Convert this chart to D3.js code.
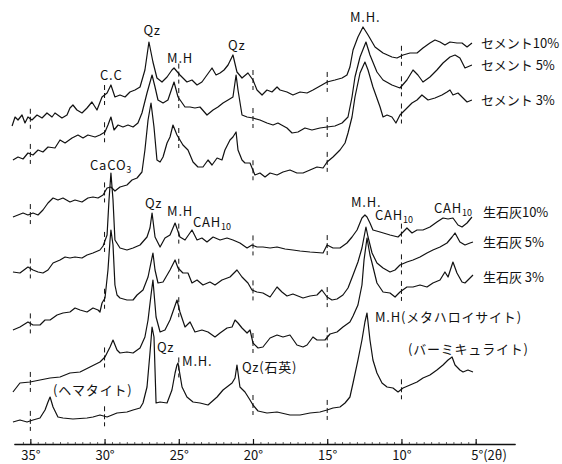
<!DOCTYPE html>
<html>
<head>
<meta charset="utf-8">
<script src="https://cdn.jsdelivr.net/npm/d3@7"></script>
<style>
  body { margin: 0; background: #fff; }
  svg text { font-family: "Noto Sans CJK JP", "Noto Sans", sans-serif; fill: #111; }
</style>
</head>
<body>
<svg id="xrd" width="562" height="464"></svg>
<script>
// 2theta ticks on the bottom axis, and where the small dashed marks sit on each trace
var axisTicks = [35, 30, 25, 20, 15, 10, 5];
var markTicks = [35, 30, 25, 20, 15, 10];

// traces: [2theta (deg), height above the axis line]
var cement10 = [[36.23,318],[36.03,327],[35.83,324],[35.56,329],[35.36,321],[35.16,327],[34.89,324],[34.55,329],[34.21,326],[33.88,331],[33.54,327],[33.34,331],[32.87,326],[32.53,329],[32.33,336],[32.13,339],[31.86,334],[31.52,331],[31.18,336],[30.85,342],[30.51,334],[30.17,347],[29.83,351],[29.57,359],[29.30,347],[28.96,349],[28.62,347],[28.29,352],[27.95,354],[27.61,357],[27.28,374],[27.01,402],[26.74,382],[26.47,366],[26.13,362],[25.79,367],[25.46,374],[25.32,376],[24.92,369],[24.45,362],[24.11,364],[23.77,359],[23.44,362],[23.10,369],[22.76,376],[22.49,369],[22.22,371],[21.95,374],[21.68,379],[21.35,389],[21.08,372],[20.74,366],[20.34,371],[20.00,364],[19.73,354],[19.39,349],[19.06,354],[18.72,352],[18.38,357],[18.18,354],[17.71,352],[17.31,349],[16.83,352],[16.36,351],[15.96,354],[15.36,359],[15.01,362],[14.48,364],[14.00,366],[13.67,369],[13.47,377],[13.26,394],[12.93,407],[12.59,417],[12.25,409],[11.78,397],[11.24,391],[10.64,387],[10.30,386],[9.89,389],[9.42,391],[8.95,391],[8.55,396],[8.08,401],[7.74,404],[7.40,402],[7.07,399],[6.73,402],[6.26,401],[5.92,401],[5.58,397],[5.25,401]];
var cement5 = [[36.17,284],[35.83,287],[35.49,285],[35.16,291],[34.82,289],[34.48,294],[34.15,292],[33.81,297],[33.34,296],[33.00,304],[32.66,301],[32.19,306],[31.79,309],[31.45,306],[31.12,309],[30.64,307],[30.31,309],[29.97,312],[29.77,319],[29.57,327],[29.36,314],[29.09,319],[28.76,317],[28.42,319],[28.08,317],[27.75,321],[27.48,331],[27.14,351],[26.80,369],[26.60,357],[26.40,344],[26.06,341],[25.73,344],[25.32,362],[25.05,347],[24.58,337],[24.24,337],[23.91,336],[23.57,337],[23.10,329],[22.69,334],[22.36,337],[22.02,341],[21.68,344],[21.35,347],[21.14,369],[21.01,354],[20.74,329],[20.40,327],[20.00,326],[19.53,324],[19.06,321],[18.65,319],[18.32,321],[17.71,316],[17.37,311],[16.97,312],[16.50,316],[16.03,314],[15.49,316],[15.01,317],[14.48,318],[14.00,321],[13.60,327],[13.33,347],[13.13,367],[12.79,387],[12.39,402],[12.12,389],[11.65,372],[11.24,364],[10.64,359],[10.10,356],[9.63,364],[9.22,374],[8.89,369],[8.55,362],[8.08,367],[7.61,374],[7.20,381],[6.73,387],[6.39,389],[6.06,386],[5.72,376],[5.25,379]];
var cement3 = [[36.17,227],[35.83,229],[35.49,231],[35.16,229],[34.82,231],[34.48,229],[34.15,234],[33.81,241],[33.47,246],[33.14,244],[32.80,246],[32.33,242],[31.99,244],[31.52,242],[31.12,246],[30.78,247],[30.44,246],[30.10,249],[29.83,256],[29.57,257],[29.30,253],[28.96,257],[28.49,259],[28.15,264],[27.81,266],[27.48,272],[27.28,294],[27.07,324],[26.87,341],[26.67,317],[26.47,284],[26.26,282],[26.06,287],[25.79,301],[25.59,307],[25.39,319],[25.12,309],[24.92,304],[24.72,299],[24.38,294],[24.04,282],[23.71,277],[23.37,277],[23.03,284],[22.76,279],[22.42,286],[22.09,284],[21.89,294],[21.55,304],[21.35,307],[21.14,312],[21.01,294],[20.74,284],[20.54,281],[20.20,281],[19.87,269],[19.53,271],[19.19,267],[18.85,271],[18.38,269],[17.98,272],[17.51,274],[17.04,271],[16.63,271],[16.16,274],[15.69,277],[15.28,276],[15.01,282],[14.61,287],[14.14,294],[13.80,301],[13.60,311],[13.33,327],[13.13,347],[12.79,371],[12.46,382],[12.25,374],[11.92,357],[11.44,337],[11.24,327],[10.97,329],[10.64,327],[10.37,321],[10.10,329],[9.76,334],[9.29,341],[8.95,344],[8.62,349],[8.21,344],[7.74,346],[7.27,349],[6.93,352],[6.73,354],[6.53,349],[6.19,351],[5.85,346],[5.58,342],[5.25,344]];
var lime10 = [[36.17,172],[35.70,171],[35.16,177],[34.82,174],[34.48,172],[34.15,171],[33.81,174],[33.47,181],[33.00,184],[32.66,187],[32.33,186],[31.99,187],[31.52,186],[31.18,189],[30.78,191],[30.31,194],[30.10,198],[29.83,209],[29.70,244],[29.57,271],[29.43,244],[29.30,204],[28.96,196],[28.49,194],[28.08,196],[27.61,199],[27.14,207],[26.94,216],[26.80,231],[26.60,207],[26.26,197],[25.93,206],[25.59,209],[25.25,221],[24.92,207],[24.58,204],[24.11,214],[23.77,204],[23.44,206],[23.10,202],[22.69,207],[22.22,204],[21.75,206],[21.35,204],[20.88,201],[20.40,196],[20.07,199],[19.73,197],[19.33,197],[18.85,196],[18.38,197],[17.84,195],[17.31,194],[16.83,193],[16.16,192],[15.28,191],[15.01,199],[14.61,196],[14.14,196],[13.67,201],[13.33,207],[12.99,214],[12.66,226],[12.46,229],[12.32,227],[12.12,221],[11.92,214],[11.44,212],[10.77,209],[10.23,207],[9.89,212],[9.63,216],[9.29,211],[8.95,214],[8.55,214],[8.08,217],[7.61,222],[7.20,226],[6.86,225],[6.53,226],[6.19,219],[5.92,217],[5.58,221],[5.25,227]];
var lime5 = [[36.17,114],[35.70,117],[35.16,122],[34.82,119],[34.35,119],[34.01,124],[33.67,124],[33.20,129],[32.80,131],[32.33,132],[31.99,136],[31.65,134],[31.18,132],[30.78,136],[30.44,134],[30.31,132],[30.17,141],[29.97,146],[29.77,174],[29.63,204],[29.57,214],[29.43,199],[29.30,159],[29.16,149],[28.96,146],[28.49,144],[28.08,144],[27.81,149],[27.41,154],[27.07,167],[26.74,191],[26.60,174],[26.40,161],[26.06,162],[25.59,174],[25.25,184],[25.05,176],[24.72,171],[24.38,171],[24.11,161],[23.77,164],[23.37,159],[22.90,162],[22.56,159],[22.09,164],[21.55,167],[21.08,174],[20.74,167],[20.34,161],[20.07,154],[19.73,152],[19.33,151],[18.85,147],[18.38,157],[18.05,152],[17.71,148],[17.31,150],[16.97,148],[16.63,146],[16.16,148],[15.69,149],[15.36,154],[15.01,147],[14.68,144],[14.34,145],[13.94,149],[13.60,156],[13.26,169],[12.93,182],[12.66,196],[12.39,217],[12.25,207],[11.98,191],[11.65,181],[11.24,176],[10.77,172],[10.43,174],[10.10,179],[9.63,182],[9.22,184],[8.75,187],[8.28,191],[7.88,194],[7.40,197],[6.93,201],[6.59,207],[6.39,211],[6.06,202],[5.72,199],[5.38,201],[5.18,202]];
var lime3 = [[36.17,52],[35.70,61],[35.02,62],[34.35,64],[33.67,66],[33.00,67],[32.33,71],[31.65,72],[30.98,77],[30.31,82],[29.97,87],[29.63,97],[29.43,104],[29.16,94],[28.96,91],[28.49,92],[28.08,91],[27.61,96],[27.28,107],[27.07,124],[26.87,149],[26.74,164],[26.53,127],[26.26,112],[25.93,114],[25.59,124],[25.12,144],[24.92,132],[24.58,117],[24.24,122],[23.91,112],[23.44,114],[23.03,112],[22.56,107],[22.22,111],[21.75,116],[21.41,117],[21.21,124],[21.01,121],[20.74,116],[20.40,111],[20.20,114],[20.00,101],[19.66,96],[19.33,97],[18.85,106],[18.38,109],[17.98,107],[17.51,109],[17.04,99],[16.63,97],[16.36,99],[15.96,107],[15.69,104],[15.15,104],[14.81,110],[14.34,112],[13.94,117],[13.47,122],[13.26,128],[12.93,139],[12.66,159],[12.52,184],[12.32,206],[12.12,189],[11.98,181],[11.65,161],[11.24,152],[10.77,151],[10.43,147],[10.10,152],[9.63,157],[9.22,157],[8.75,159],[8.28,157],[7.88,161],[7.40,164],[7.07,172],[6.86,167],[6.53,182],[6.26,171],[5.92,162],[5.72,161],[5.38,166],[5.18,169]];
var untreated = [[36.17,22],[35.70,24],[35.22,22],[34.82,24],[34.35,26],[34.01,34],[33.81,42],[33.67,47],[33.47,37],[33.14,27],[32.80,26],[32.13,25],[31.18,26],[30.78,27],[30.31,29],[29.83,27],[29.16,31],[28.49,32],[28.08,34],[27.61,36],[27.41,41],[27.14,57],[26.94,91],[26.80,117],[26.67,107],[26.53,41],[26.26,42],[25.79,41],[25.46,54],[25.25,71],[25.12,79],[25.05,81],[24.78,57],[24.45,47],[24.04,42],[23.57,41],[23.03,39],[22.42,47],[22.02,54],[21.41,61],[21.21,66],[21.08,79],[20.88,57],[20.54,52],[20.20,44],[20.00,39],[19.66,33],[19.06,31],[18.38,32],[17.51,29],[16.83,29],[16.16,31],[15.49,32],[15.01,34],[14.61,36],[14.14,37],[13.80,41],[13.47,47],[13.26,61],[12.93,84],[12.66,104],[12.46,122],[12.32,131],[12.12,104],[11.92,84],[11.65,71],[11.31,61],[10.97,57],[10.57,56],[10.23,52],[9.89,56],[9.42,59],[8.95,62],[8.55,66],[8.08,69],[7.61,74],[7.20,79],[6.86,84],[6.59,87],[6.39,79],[6.06,74],[5.85,72],[5.52,74],[5.18,72]];

var traces = [cement10, cement5, cement3, lime10, lime5, lime3, untreated];
var traceNames = ["セメント10%", "セメント 5%", "セメント 3%", "生石灰10%", "生石灰 5%", "生石灰 3%", ""];

// peak labels: text, subscript, [2theta, height]
var peakLabels = [
  ["Qz", "", 26.80, 409, "middle"], ["M.H", "", 25.79, 381], ["C.C", "", 30.31, 364],
  ["Qz", "", 21.68, 394], ["M.H.", "", 13.47, 422],
  ["CaCO", "3", 30.98, 274], ["Qz", "", 27.28, 236], ["M.H", "", 25.79, 228],
  ["CAH", "10", 24.04, 217], ["M.H.", "", 13.40, 237], ["CAH", "10", 11.78, 224], ["CAH", "10", 7.81, 231],
  ["M.H(メタハロイサイト)", "", 11.78, 122], ["(バーミキュライト)", "", 9.56, 90],
  ["Qz", "", 26.47, 92], ["M.H.", "", 24.78, 78], ["Qz(石英)", "", 20.74, 72], ["(ヘマタイト)", "", 33.47, 49]
];
var nameLabelHeights = [396, 374, 339, 227, 197, 162];

function drawXRD(id) {
  var svg = d3.select(id);

  var x = d3.scaleLinear().domain([36.1, 2.35]).range([14, 515]);
  var y = d3.scaleLinear().domain([0, 440]).range([444, 4]);

  var line = d3.line()
      .x(function(d) { return x(d[0]); })
      .y(function(d) { return y(d[1]); });

  //height of a trace at a given 2theta (points run from high to low angle)
  function heightAt(pts, t) {
    for (var i = 0; i < pts.length - 1; i++) {
      var a = pts[i], b = pts[i + 1];
      if (t <= a[0] && t >= b[0]) return a[1] + (b[1] - a[1]) * (a[0] - t) / (a[0] - b[0]);
    }
    return pts[pts.length - 1][1];
  }

  svg.selectAll(".trace")
    .data(traces)
    .enter().append("path")
      .attr("class", "trace")
      .attr("d", line)
      .attr("fill", "none")
      .attr("stroke", "#111")
      .attr("stroke-width", 1.2)
      .attr("stroke-linejoin", "round");

  // dashed reference marks every 5 degrees on each trace
  traces.forEach(function(pts) {
    svg.selectAll(null)
      .data(markTicks)
      .enter().append("line")
        .attr("x1", function(d) { return x(d); })
        .attr("x2", function(d) { return x(d); })
        .attr("y1", function(d) { return y(heightAt(pts, d)) - 10; })
        .attr("y2", function(d) { return y(heightAt(pts, d)) + 10; })
        .attr("stroke", "#111")
        .attr("stroke-width", 1)
        .attr("stroke-dasharray", "5,3");
  });

  // axis
  var minor = d3.axisBottom(x)
      .tickValues(d3.range(35.5, 4.9, -0.5))
      .tickSize(-2).tickSizeOuter(0).tickFormat("");
  svg.append("g").attr("transform", "translate(0,444)").call(minor)
    .call(function(g) { g.selectAll("line").attr("stroke", "#666"); });

  var axis = d3.axisBottom(x)
      .tickValues(axisTicks)
      .tickSize(-5).tickSizeOuter(0).tickPadding(7)
      .tickFormat(function(d) { return d === 5 ? "5°(2θ)" : d + "°"; });
  var ax = svg.append("g").attr("transform", "translate(0,444)").call(axis);
  ax.select(".domain").attr("stroke", "#111").attr("stroke-width", 1.3);
  ax.selectAll("line").attr("stroke", "#111").attr("stroke-width", 1.2);
  ax.selectAll("text")
      .attr("font-size", 13)
      .attr("font-family", "\"Noto Sans CJK JP\", sans-serif")
      .attr("fill", "#111");
  ax.selectAll(".tick").filter(function(d) { return d === 5; }).select("text")
      .attr("text-anchor", "start").attr("x", -5);

  // sample names at the right end
  svg.selectAll(".name")
    .data(nameLabelHeights)
    .enter().append("text")
      .attr("class", "name")
      .attr("x", function(d, i) { return i < 3 ? x(4.64) : x(4.51); })
      .attr("y", function(d) { return y(d); })
      .attr("font-size", 13)
      .text(function(d, i) { return traceNames[i]; });

  // peak labels
  var lab = svg.selectAll(".peak")
    .data(peakLabels)
    .enter().append("text")
      .attr("class", "peak")
      .attr("x", function(d) { return x(d[2]); })
      .attr("y", function(d) { return y(d[3]); })
      .attr("text-anchor", function(d) { return d[4] || "start"; })
      .attr("letter-spacing", 0.8)
      .attr("font-size", 13);
  lab.append("tspan").text(function(d) { return d[0]; });
  lab.filter(function(d) { return d[1]; })
    .append("tspan")
      .attr("dy", 3)
      .attr("font-size", 9)
      .attr("letter-spacing", 0)
      .text(function(d) { return d[1]; });
}

drawXRD("#xrd");
</script>
</body>
</html>
